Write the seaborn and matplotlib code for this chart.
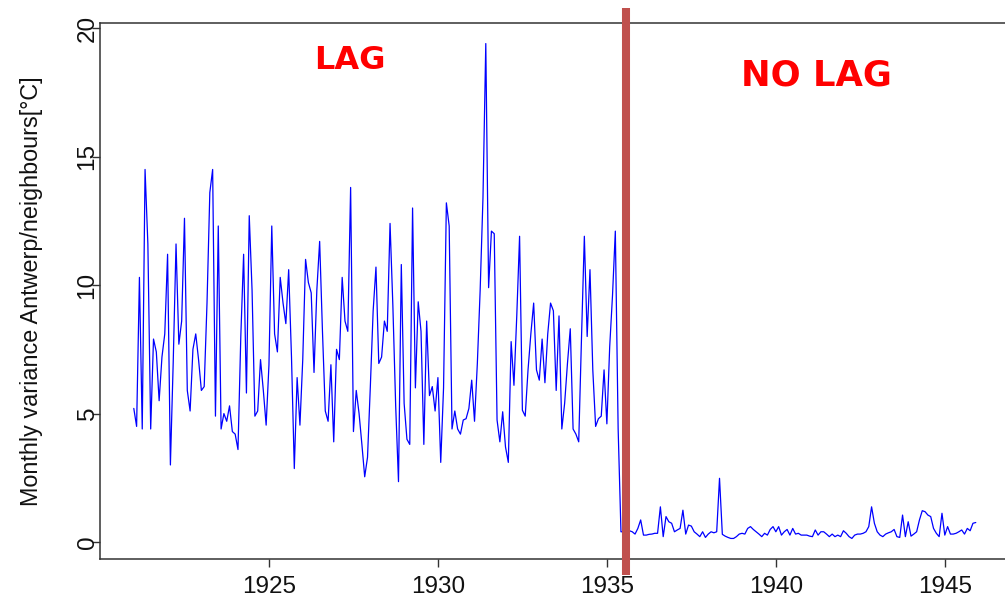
import numpy as np
import pandas as pd
import matplotlib
matplotlib.use("Agg")
import matplotlib.pyplot as plt
import seaborn as sns

# ---- data ----
start_year = 1921          # first month: January 1921, monthly series
# monthly variance before the break (lagged period)
lag_values = [
    5.2, 4.5, 10.3, 4.4, 14.5, 11.6, 4.4, 7.9, 7.4, 5.5,
    7.2, 8.1, 11.2, 3.0, 7.0, 11.6, 7.7, 8.6, 12.6, 5.9,
    5.1, 7.5, 8.1, 7.1, 5.9, 6.05, 9.3, 13.6, 14.5, 4.9,
    12.3, 4.4, 5.0, 4.7, 5.3, 4.3, 4.2, 3.6, 8.0, 11.2,
    5.8, 12.7, 9.8, 4.9, 5.1, 7.1, 5.9, 4.55, 6.9, 12.3,
    8.1, 7.4, 10.3, 9.3, 8.5, 10.6, 7.2, 2.86, 6.4, 4.55,
    7.1, 11.0, 10.1, 9.7, 6.6, 9.8, 11.7, 8.2, 5.1, 4.7,
    6.9, 3.9, 7.5, 7.1, 10.3, 8.6, 8.2, 13.8, 4.3, 5.9,
    5.0, 3.8, 2.54, 3.3, 6.05, 9.0, 10.7, 6.95, 7.2, 8.6,
    8.2, 12.4, 9.2, 5.3, 2.35, 10.8, 5.4, 4.0, 3.8, 13.0,
    6.0, 9.35, 8.2, 3.8, 8.6, 5.7, 6.05, 5.1, 6.4, 3.1,
    6.0, 13.2, 12.3, 4.4, 5.1, 4.4, 4.2, 4.75, 4.8, 5.2,
    6.3, 4.7, 6.95, 9.8, 13.4, 19.4, 9.9, 12.1, 12.0, 4.75,
    3.9, 5.07, 3.7, 3.1, 7.8, 6.1, 8.8, 11.9, 5.13, 4.9,
    6.7, 8.1, 9.3, 6.7, 6.3, 7.9, 6.2, 8.1, 9.3, 9.0,
    5.9, 8.8, 4.4, 5.4, 6.95, 8.3, 4.4, 4.2, 3.9, 8.0,
    11.9, 8.0, 10.6, 6.7, 4.5, 4.8, 4.9, 6.7, 4.6, 7.6,
    9.6, 12.1, 4.4,
]
# monthly variance after the break (no lag)
nolag_values = [
    0.40, 0.40, 0.40, 0.44, 0.40, 0.31, 0.53, 0.86, 0.27, 0.27,
    0.30, 0.31, 0.34, 0.34, 1.37, 0.21, 0.99, 0.79, 0.73, 0.40,
    0.47, 0.53, 1.24, 0.31, 0.66, 0.62, 0.40, 0.31, 0.21, 0.40,
    0.18, 0.31, 0.40, 0.36, 0.40, 2.48, 0.30, 0.23, 0.18, 0.14,
    0.14, 0.21, 0.31, 0.34, 0.31, 0.53, 0.60, 0.49, 0.40, 0.31,
    0.21, 0.34, 0.27, 0.49, 0.60, 0.40, 0.60, 0.27, 0.40, 0.49,
    0.27, 0.53, 0.31, 0.34, 0.27, 0.27, 0.27, 0.23, 0.21, 0.47,
    0.27, 0.40, 0.40, 0.31, 0.21, 0.31, 0.21, 0.27, 0.21, 0.44,
    0.34, 0.21, 0.14, 0.27, 0.31, 0.31, 0.34, 0.40, 0.60, 1.37,
    0.73, 0.40, 0.27, 0.21, 0.31, 0.36, 0.40, 0.49, 0.21, 0.18,
    1.05, 0.21, 0.79, 0.23, 0.31, 0.40, 0.86, 1.22, 1.18, 1.05,
    0.99, 0.53, 0.34, 0.21, 1.12, 0.27, 0.60, 0.31, 0.31, 0.34,
    0.40, 0.47, 0.31, 0.53, 0.44, 0.73, 0.76,
]
break_year = 1935.58
x_ticks = [1925, 1930, 1935, 1940, 1945]
y_ticks = [0, 5, 10, 15, 20]
y_label = "Monthly variance Antwerp/neighbours[°C]"
label_lag = "LAG"
label_nolag = "NO LAG"

values = lag_values + nolag_values
time = start_year + np.arange(len(values)) / 12.0
df = pd.DataFrame({"time": time, "variance": values})

# ---- figure ----
sns.set_theme(style="white")
plt.rcParams["font.family"] = ["Liberation Sans", "DejaVu Sans"]

W, H = 1005, 598
fig = plt.figure(figsize=(W / 100, H / 100), dpi=100)
fig.patch.set_facecolor("white")
ax = fig.add_axes([100 / W, 39 / H, 909 / W, 536 / H])
ax.set_facecolor("white")

sns.lineplot(data=df, x="time", y="variance", ax=ax, color="#0000FF",
             linewidth=0.9, estimator=None, sort=False)

ax.set_xlim(1920.0, 1946.9)
ax.set_ylim(-0.66, 20.2)

ax.set_xticks(x_ticks)
ax.set_xticklabels([str(t) for t in x_ticks])
ax.set_yticks(y_ticks)
ax.set_yticklabels([str(t) for t in y_ticks], rotation=90, va="center")

for sp in ax.spines.values():
    sp.set_visible(True)
    sp.set_color("#333333")
    sp.set_linewidth(1.1)

ax.tick_params(axis="both", direction="out", length=6, width=1.0,
               color="#333333", labelsize=17.5, labelcolor="#111111",
               bottom=True, left=True)
ax.tick_params(axis="x", pad=6)
ax.tick_params(axis="y", pad=-5)

ax.set_xlabel("")
ax.set_ylabel(y_label, fontsize=16.8, color="#111111")
ax.yaxis.set_label_coords(-0.0627, 0.5)

# break marker
ax.axvline(break_year, ymin=-0.03, ymax=1.028, color="#C0504D",
           linewidth=5.8, clip_on=False, solid_capstyle="butt", zorder=5)

# annotations
ax.text(1927.4, 18.4, label_lag, color="#FF0000", fontsize=23,
        fontweight="bold", ha="center", va="baseline",
        family=["DejaVu Sans"])
ax.text(1941.2, 17.75, label_nolag, color="#FF0000", fontsize=25.5,
        fontweight="bold", ha="center", va="baseline",
        family=["DejaVu Sans"])

fig.savefig("out.png", dpi=100)
